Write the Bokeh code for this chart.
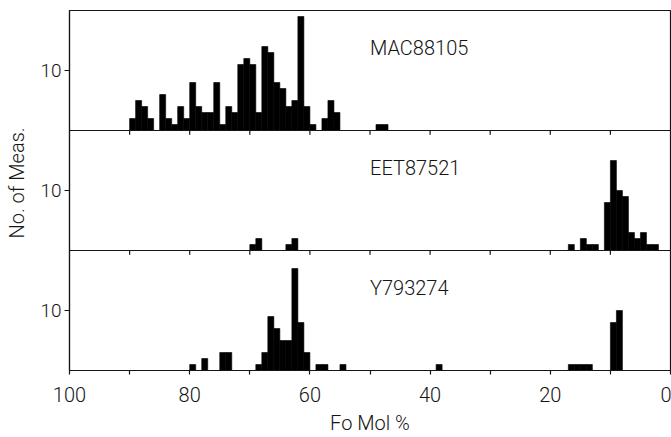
from bokeh.plotting import figure
from bokeh.models import Range1d, FixedTicker, Span, Title
from bokeh.embed import file_html
from bokeh.resources import INLINE
from bokeh.core.properties import value

# ---- data ----
samples = ["MAC88105", "EET87521", "Y793274"]
panel_offsets = [40, 20, 0]   # stacking offset of each panel (counts)

# lower edge of each 1 mol% bin and number of measurements
mac_lo = [89, 88, 87, 86, 84, 83, 82, 81, 80, 79, 78, 77, 76, 75, 74, 73, 72, 71,
          70, 69, 68, 67, 66, 65, 64, 63, 62, 61, 60, 59, 57, 56, 55, 48, 47]
mac_n = [2, 5, 4, 2, 6, 2, 1, 4, 2, 8, 4, 3, 3, 8, 1, 4, 3, 11,
         12, 11, 3, 14, 13, 8, 7, 4, 5, 19, 4, 1, 2, 5, 3, 1, 1]

eet_lo = [69, 68, 63, 62, 16, 14, 13, 12, 10, 9, 8, 7, 6, 5, 4, 3, 2]
eet_n = [1, 2, 1, 2, 1, 2, 1, 1, 8, 15, 10, 9, 3, 2, 3, 1, 1]

y79_lo = [79, 77, 74, 73, 68, 67, 66, 65, 64, 63, 62, 61, 60, 58, 57, 54, 38,
          16, 15, 14, 13, 9, 8]
y79_n = [1, 2, 3, 3, 1, 3, 9, 7, 5, 5, 17, 8, 3, 1, 1, 1, 1,
         1, 1, 1, 1, 8, 10]

bin_width = 1
x_major = [0, 20, 40, 60, 80, 100]
x_minor = [10, 30, 50, 70, 90]
y_tick_value = 10

FONT = "'Roboto Light', Roboto, 'Liberation Sans', sans-serif"
INK = "#151515"

p = figure(frame_width=601, frame_height=360,
           min_border_left=69, min_border_right=1, min_border_top=10, min_border_bottom=60,
           x_range=Range1d(100, 0), y_range=Range1d(0, 60),
           output_backend="svg", toolbar_location=None,
           background_fill_color="white", border_fill_color="white")
p.grid.visible = False
p.outline_line_color = INK
p.outline_line_width = 1.2

series = [(mac_lo, mac_n), (eet_lo, eet_n), (y79_lo, y79_n)]
for (lo, n), off in zip(series, panel_offsets):
    p.quad(left=lo, right=[v + bin_width for v in lo],
           bottom=[off] * len(lo), top=[off + c for c in n],
           fill_color="black", line_color="black", line_width=0.6)

# panel separators with their downward x ticks
for off in panel_offsets[:-1]:
    p.add_layout(Span(location=off, dimension="width", line_color=INK, line_width=1.2))
    xt = x_minor + x_major[1:-1]
    p.segment(x0=xt, y0=[off] * len(xt), x1=xt, y1=[off - 0.7] * len(xt),
              line_color=INK, line_width=1.2)

# panel labels
p.text(x=[50] * 3, y=[off + 13.7 for off in panel_offsets], text=samples,
       text_font=value(FONT), text_font_size=value("20px"), text_color=INK,
       text_align="left", text_baseline="middle")

# x axis
xa = p.xaxis[0]
xa.ticker = FixedTicker(ticks=x_major, minor_ticks=x_minor)
xa.axis_label = "Fo Mol %"
xa.axis_label_text_font = FONT
xa.axis_label_text_font_size = "20px"
xa.axis_label_text_font_style = "normal"
xa.axis_label_text_color = INK
xa.axis_label_standoff = 6
xa.major_label_text_font = FONT
xa.major_label_text_font_size = "20px"
xa.major_label_text_color = INK
xa.major_label_standoff = 12
xa.major_tick_in = 0
xa.major_tick_out = 4
xa.minor_tick_in = 0
xa.minor_tick_out = 4
xa.axis_line_color = INK
xa.axis_line_width = 1.2
xa.major_tick_line_color = INK
xa.minor_tick_line_color = INK
xa.major_tick_line_width = 1.2
xa.minor_tick_line_width = 1.2

# y axis
ya = p.yaxis[0]
yt = [off + y_tick_value for off in panel_offsets]
ya.ticker = FixedTicker(ticks=yt, minor_ticks=[])
ya.major_label_overrides = {t: str(y_tick_value) for t in yt}
ya.major_label_text_font = FONT
ya.major_label_text_font_size = "19px"
ya.major_label_text_color = INK
ya.major_label_standoff = 3
ya.major_tick_in = 0
ya.major_tick_out = 5
ya.major_tick_line_color = INK
ya.major_tick_line_width = 1.2
ya.axis_line_color = INK
ya.axis_line_width = 1.2
ya.axis_label = " "
ya.axis_label_standoff = 0
ya.axis_label_text_font_size = "6px"

p.add_layout(Title(text="No. of Meas.", align="left", offset=132, standoff=0,
                   text_font=FONT, text_font_size="20px", text_font_style="normal",
                   text_color=INK), "left")

open("out.html", "w").write(file_html(p, INLINE))
